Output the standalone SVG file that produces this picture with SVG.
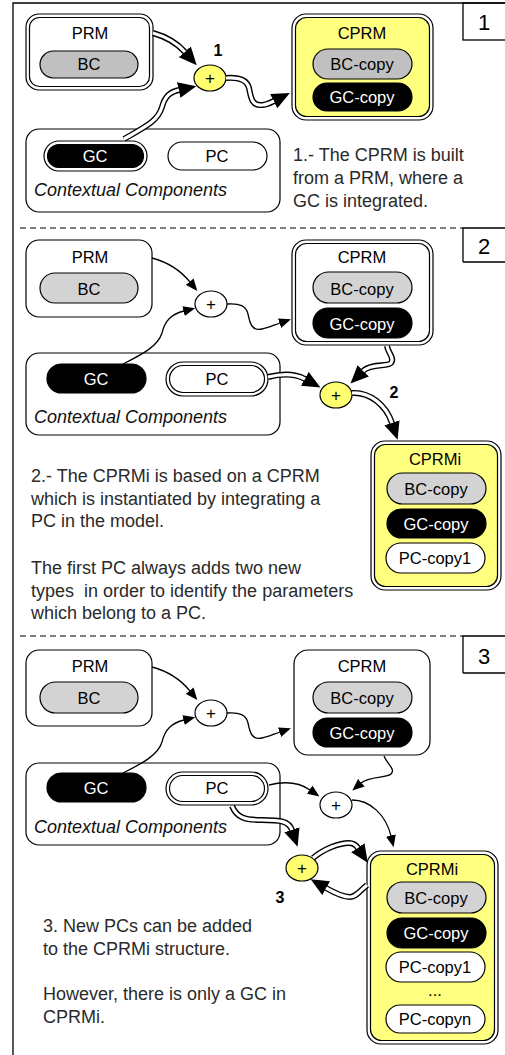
<svg xmlns="http://www.w3.org/2000/svg" width="505" height="1055" viewBox="0 0 505 1055">
<style>
text{font-family:"Liberation Sans",Arial,Helvetica,sans-serif;}
.lbl{font-size:16.5px;text-anchor:middle;fill:#000;}
.wl{font-size:16.5px;text-anchor:middle;fill:#fff;}
.ctx{font-size:18px;font-style:italic;fill:#111;}
.para{font-size:18px;fill:#2a2a2a;}
.num{font-size:22px;text-anchor:middle;fill:#000;}
.step{font-size:16px;font-weight:bold;text-anchor:middle;fill:#000;}
.plus{font-size:17px;text-anchor:middle;fill:#000;}
.box{fill:#fff;stroke:#000;stroke-width:1.2;}
.yin{fill:#ffff80;stroke:#000;stroke-width:1.2;}
.g1{fill:#c0c0c0;stroke:#000;stroke-width:1.2;}
.g2{fill:#d3d3d3;stroke:#000;stroke-width:1.2;}
.blk{fill:#000;stroke:#000;stroke-width:1.2;}
.wp{fill:#fff;stroke:#000;stroke-width:1.2;}
.py{fill:#ffff70;stroke:#000;stroke-width:1.2;}
.pw{fill:#fff;stroke:#000;stroke-width:1.2;}
.thin{fill:none;stroke:#000;stroke-width:1.3;marker-end:url(#as);}
.dblo{fill:none;stroke:#000;stroke-width:6;marker-end:url(#ab);}
.dbli{fill:none;stroke:#fff;stroke-width:3.2;}
.frame{fill:none;stroke:#000;stroke-width:1.3;}
.dash{fill:none;stroke:#000;stroke-width:1.2;stroke-dasharray:6 4;}
</style>
<defs>
<marker id="ab" markerUnits="userSpaceOnUse" markerWidth="18" markerHeight="16" viewBox="0 0 18 16" refX="0.3" refY="8" orient="auto"><path d="M0,0 L18,8 L0,16 z" fill="#000"/></marker>
<marker id="as" markerUnits="userSpaceOnUse" markerWidth="12" markerHeight="10" viewBox="0 0 12 10" refX="0.5" refY="5" orient="auto"><path d="M0,0 L12,5 L0,10 z" fill="#000"/></marker>
</defs>

<g id="frame">
<path class="frame" d="M13,1055 L13,3 L505,3"/>
<rect class="frame" x="463" y="3" width="50" height="37"/>
<text class="num" x="484" y="30">1</text>
<path class="dash" d="M20,228 L463,228"/>
<path class="frame" d="M463,262 L463,228 L505,228 M463,262 L505,262"/>
<text class="num" x="484" y="254">2</text>
<path class="dash" d="M20,636 L463,636"/>
<path class="frame" d="M463,673 L463,636 L505,636 M463,673 L505,673"/>
<text class="num" x="484" y="664">3</text>
</g>

<!-- Section 1 -->
<g id="s1-prm">
<rect class="box" x="26" y="14" width="127" height="76" rx="13"/>
<rect class="box" x="29.5" y="17.5" width="120" height="69" rx="10"/>
<text class="lbl" x="90" y="39">PRM</text>
<rect class="g1" x="40" y="51" width="98" height="27" rx="13.5"/>
<text class="lbl" x="89" y="70">BC</text>
</g>
<g id="s1-cprm">
<rect class="box" x="292" y="14" width="141" height="106" rx="14"/>
<rect class="yin" x="295.5" y="17.5" width="134" height="99" rx="11"/>
<text class="lbl" x="362" y="39">CPRM</text>
<rect class="g1" x="313" y="49" width="99" height="30" rx="15"/>
<text class="lbl" x="362" y="70">BC-copy</text>
<rect class="blk" x="313" y="83" width="99" height="28" rx="14"/>
<text class="wl" x="362" y="103">GC-copy</text>
</g>
<g id="s1-ctx">
<rect class="box" x="26" y="129" width="254" height="83" rx="13"/>
<rect class="wp" x="44" y="141" width="103" height="30" rx="15"/>
<rect class="blk" x="47.5" y="144.5" width="96" height="23" rx="11.5"/>
<text class="wl" x="95" y="162">GC</text>
<rect class="wp" x="168" y="142" width="99" height="28" rx="14"/>
<text class="lbl" x="217" y="162">PC</text>
<text class="ctx" x="34" y="196">Contextual Components</text>
</g>
<g id="s1-plus">
<ellipse class="py" cx="210" cy="78" rx="16" ry="13"/>
<text class="plus" x="210" y="84">+</text>
<text class="step" x="218" y="56">1</text>
</g>
<g id="s1-text">
<text class="para" x="293" y="161">1.- The CPRM is built</text>
<text class="para" x="293" y="184">from a PRM, where a</text>
<text class="para" x="293" y="207">GC is integrated.</text>
</g>

<!-- Section 2 -->
<g id="s2-prm">
<rect class="box" x="26" y="240" width="126" height="77" rx="13"/>
<text class="lbl" x="90" y="263">PRM</text>
<rect class="g2" x="40" y="273" width="98" height="30" rx="15"/>
<text class="lbl" x="89" y="295">BC</text>
</g>
<g id="s2-cprm">
<rect class="box" x="292" y="240" width="141" height="105" rx="14"/>
<rect class="box" x="295.5" y="243.5" width="134" height="98" rx="11"/>
<text class="lbl" x="362" y="263">CPRM</text>
<rect class="g2" x="313" y="272" width="99" height="31" rx="15.5"/>
<text class="lbl" x="362" y="295">BC-copy</text>
<rect class="blk" x="313" y="308" width="99" height="30" rx="15"/>
<text class="wl" x="362" y="330">GC-copy</text>
</g>
<g id="s2-ctx">
<rect class="box" x="26" y="353" width="254" height="82" rx="13"/>
<rect class="blk" x="47" y="364" width="99" height="29" rx="14.5"/>
<text class="wl" x="96" y="385">GC</text>
<rect class="wp" x="166" y="362" width="102" height="34" rx="17"/>
<rect class="wp" x="169.5" y="365.5" width="95" height="27" rx="13.5"/>
<text class="lbl" x="217" y="385">PC</text>
<text class="ctx" x="34" y="423">Contextual Components</text>
</g>
<g id="s2-plusA">
<ellipse class="pw" cx="211" cy="304" rx="16" ry="13"/>
<text class="plus" x="211" y="310">+</text>
</g>
<g id="s2-plusB">
<ellipse class="py" cx="336" cy="395" rx="16" ry="13"/>
<text class="plus" x="336" y="401">+</text>
<text class="step" x="394" y="398">2</text>
</g>
<g id="s2-cprmi">
<rect class="box" x="371" y="441" width="130" height="149" rx="14"/>
<rect class="yin" x="374.5" y="444.5" width="123" height="142" rx="11"/>
<text class="lbl" x="435" y="465">CPRMi</text>
<rect class="g2" x="387" y="473" width="99" height="31" rx="15.5"/>
<text class="lbl" x="436" y="495">BC-copy</text>
<rect class="blk" x="387" y="509" width="99" height="29" rx="14.5"/>
<text class="wl" x="436" y="530">GC-copy</text>
<rect class="wp" x="386" y="543" width="99" height="30" rx="15"/>
<text class="lbl" x="435" y="564">PC-copy1</text>
</g>
<g id="s2-text">
<text class="para" x="31" y="482">2.- The CPRMi is based on a CPRM</text>
<text class="para" x="31" y="505">which is instantiated by integrating a</text>
<text class="para" x="31" y="527">PC in the model.</text>
<text class="para" x="31" y="574">The first PC always adds two new</text>
<text class="para" x="31" y="597" xml:space="preserve">types  in order to identify the parameters</text>
<text class="para" x="31" y="619">which belong to a PC.</text>
</g>

<!-- Section 3 -->
<g id="s3-prm">
<rect class="box" x="26" y="650" width="126" height="76" rx="13"/>
<text class="lbl" x="90" y="672">PRM</text>
<rect class="g2" x="40" y="682" width="98" height="31" rx="15.5"/>
<text class="lbl" x="89" y="704">BC</text>
</g>
<g id="s3-cprm">
<rect class="box" x="294" y="650" width="136" height="105" rx="14"/>
<text class="lbl" x="362" y="672">CPRM</text>
<rect class="g2" x="313" y="682" width="99" height="31" rx="15.5"/>
<text class="lbl" x="362" y="704">BC-copy</text>
<rect class="blk" x="313" y="718" width="99" height="29" rx="14.5"/>
<text class="wl" x="362" y="739">GC-copy</text>
</g>
<g id="s3-ctx">
<rect class="box" x="26" y="763" width="254" height="82" rx="13"/>
<rect class="blk" x="47" y="773" width="99" height="29" rx="14.5"/>
<text class="wl" x="96" y="794">GC</text>
<rect class="wp" x="166" y="772" width="102" height="33" rx="16.5"/>
<rect class="wp" x="169.5" y="775.5" width="95" height="26" rx="13"/>
<text class="lbl" x="217" y="794">PC</text>
<text class="ctx" x="34" y="833">Contextual Components</text>
</g>
<g id="s3-plusA">
<ellipse class="pw" cx="211" cy="713" rx="16" ry="13"/>
<text class="plus" x="211" y="719">+</text>
</g>
<g id="s3-plusB">
<ellipse class="pw" cx="336" cy="805" rx="16" ry="13"/>
<text class="plus" x="336" y="811">+</text>
</g>
<g id="s3-plusC">
<ellipse class="py" cx="302" cy="868" rx="16" ry="13"/>
<text class="plus" x="302" y="874">+</text>
<text class="step" x="280" y="903">3</text>
</g>
<g id="s3-cprmi">
<rect class="box" x="367" y="851" width="131" height="193" rx="14"/>
<rect class="yin" x="370.5" y="854.5" width="124" height="186" rx="11"/>
<text class="lbl" x="432" y="875">CPRMi</text>
<rect class="g2" x="387" y="882" width="99" height="31" rx="15.5"/>
<text class="lbl" x="436" y="904">BC-copy</text>
<rect class="blk" x="387" y="918" width="99" height="30" rx="15"/>
<text class="wl" x="436" y="939">GC-copy</text>
<rect class="wp" x="386" y="952" width="99" height="30" rx="15"/>
<text class="lbl" x="435" y="973">PC-copy1</text>
<text class="lbl" x="435" y="996">...</text>
<rect class="wp" x="386" y="1005" width="99" height="28" rx="14"/>
<text class="lbl" x="435" y="1025">PC-copyn</text>
</g>
<g id="s3-text">
<text class="para" x="43" y="932">3. New PCs can be added</text>
<text class="para" x="43" y="955">to the CPRMi structure.</text>
<text class="para" x="43" y="1000">However, there is only a GC in</text>
<text class="para" x="43" y="1023">CPRMi.</text>
</g>

<g id="connectors">
<!-- section 1 -->
<path class="dblo" d="M153,33 C167,37 177,43 185,52"/>
<path class="dbli" d="M153,33 C167,37 177,43 185,52"/>
<path class="dblo" d="M124,139 C145,127 158,121 162,107 C165,96 170,92 179,90"/>
<path class="dbli" d="M124,139 C145,127 158,121 162,107 C165,96 170,92 179,90"/>
<path class="dblo" d="M226,78 C240,77 247,80 249,88 C251,98 252,106 262,105 C266,105 270,103 274,101"/>
<path class="dbli" d="M226,78 C240,77 247,80 249,88 C251,98 252,106 262,105 C266,105 270,103 274,101"/>
<!-- section 2 -->
<path class="thin" d="M152,258 C167,262 181,271 190,282"/>
<path class="thin" d="M123,364 C143,354 158,346 162,333 C165,320 172,314 184,311"/>
<path class="thin" d="M227,304 C240,303 246,306 248,314 C250,324 252,331 262,329 C268,328 274,325 280,323"/>
<path class="dblo" d="M387,346 C388,353 395,358 391,363 C388,367 371,363 363,371"/>
<path class="dbli" d="M387,346 C388,353 395,358 391,363 C388,367 371,363 363,371"/>
<path class="dblo" d="M268,377 C284,373 296,374 305,379"/>
<path class="dbli" d="M268,377 C284,373 296,374 305,379"/>
<path class="dblo" d="M352,393 C370,392 386,405 392,423"/>
<path class="dbli" d="M352,393 C370,392 386,405 392,423"/>
<!-- section 3 -->
<path class="thin" d="M152,667 C167,671 181,680 190,691"/>
<path class="thin" d="M123,773 C143,763 158,755 162,742 C165,729 172,723 184,720"/>
<path class="thin" d="M227,713 C240,712 246,715 248,723 C250,733 252,740 262,738 C268,737 274,734 280,732"/>
<path class="thin" d="M384,756 C387,764 396,769 391,774 C387,778 369,776 361,783"/>
<path class="thin" d="M269,785 C285,781 300,783 310,790"/>
<path class="thin" d="M352,800 C370,800 386,815 391,836"/>
<path class="dblo" d="M232,806 C237,818 245,820 262,820 C280,820 289,821 292,830"/>
<path class="dbli" d="M232,806 C237,818 245,820 262,820 C280,820 289,821 292,830"/>
<path class="dblo" d="M313,858 C325,848 340,843 349,843 C353,843 356,845 358,848"/>
<path class="dbli" d="M313,858 C325,848 340,843 349,843 C353,843 356,845 358,848"/>
<path class="dblo" d="M367,885 C360,891 356,897 350,897 C344,897 333,892 326,888"/>
<path class="dbli" d="M367,885 C360,891 356,897 350,897 C344,897 333,892 326,888"/>
</g>
</svg>
